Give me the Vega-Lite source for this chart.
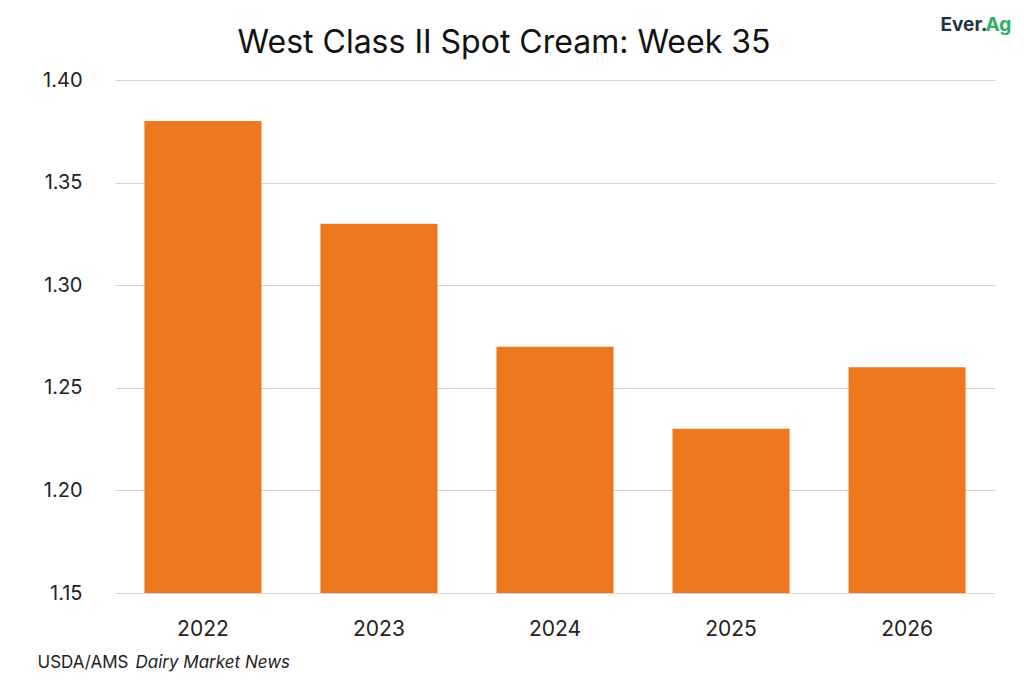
{
  "$schema": "https://vega.github.io/schema/vega-lite/v6.json",
  "autosize": {"type": "none"},
  "width": 880,
  "height": 513,
  "padding": {"left": 115, "top": 80, "right": 29, "bottom": 90},
  "background": "white",
  "title": {
    "text": "West Class II Spot Cream: Week 35",
    "anchor": "middle",
    "frame": "group",
    "dx": -51,
    "offset": -45,
    "fontSize": 32,
    "fontWeight": "normal",
    "font": "Inter",
    "color": "#111111"
  },
  "data": {
    "values": [
      {"year": "2022", "price": 1.38},
      {"year": "2023", "price": 1.33},
      {"year": "2024", "price": 1.27},
      {"year": "2025", "price": 1.23},
      {"year": "2026", "price": 1.26}
    ]
  },
  "layer": [
    {
      "mark": {"type": "bar", "color": "#EC771F"},
      "encoding": {
        "x": {
          "field": "year",
          "type": "nominal",
          "scale": {"paddingInner": 0.335, "paddingOuter": 0.167},
          "axis": {
            "labelAngle": 0,
            "labelFontSize": 21,
            "labelPadding": 25,
            "labelColor": "#222222",
            "domain": false,
            "ticks": false,
            "title": "USDA/AMS",
            "titleFont": "Inter",
            "titleFontSize": 17,
            "titleFontWeight": "normal",
            "titleColor": "#222222",
            "titleAngle": 0,
            "titleAlign": "left",
            "titleBaseline": "alphabetic",
            "titleX": -78,
            "titleY": 74
          }
        },
        "y": {
          "field": "price",
          "type": "quantitative",
          "scale": {"domain": [1.15, 1.4], "zero": false, "nice": false},
          "axis": {
            "values": [1.15, 1.2, 1.25, 1.3, 1.35, 1.4],
            "format": ".2f",
            "labelFontSize": 20,
            "labelPadding": 33,
            "labelColor": "#222222",
            "domain": false,
            "ticks": false,
            "grid": true,
            "gridColor": "#d4d4d4",
            "gridWidth": 1,
            "title": "Dairy Market News",
            "titleFont": "Inter",
            "titleFontSize": 17,
            "titleFontWeight": "normal",
            "titleFontStyle": "italic",
            "titleColor": "#222222",
            "titleAngle": 0,
            "titleAlign": "left",
            "titleBaseline": "alphabetic",
            "titleX": 20,
            "titleY": 587
          }
        },
        "y2": {"datum": 1.15}
      }
    },
    {
      "mark": {"type": "bar", "opacity": 0},
      "encoding": {
        "x": {
          "field": "year",
          "type": "nominal",
          "scale": {"paddingInner": 0.335, "paddingOuter": 0.167},
          "axis": {
            "orient": "top",
            "labels": false,
            "ticks": false,
            "domain": false,
            "grid": false,
            "title": "Ag",
            "titleFont": "Inter",
            "titleFontSize": 19,
            "titleFontWeight": "bold",
            "titleColor": "#2BAE66",
            "titleAngle": 0,
            "titleAlign": "left",
            "titleBaseline": "alphabetic",
            "titleX": 870,
            "titleY": -50
          }
        },
        "y": {
          "field": "price",
          "type": "quantitative",
          "scale": {"domain": [1.15, 1.4], "zero": false, "nice": false},
          "axis": {
            "orient": "right",
            "labels": false,
            "ticks": false,
            "domain": false,
            "grid": false,
            "title": "Ever.",
            "titleFont": "Inter",
            "titleFontSize": 19,
            "titleFontWeight": "bold",
            "titleColor": "#1E3444",
            "titleAngle": 0,
            "titleAlign": "left",
            "titleBaseline": "alphabetic",
            "titleX": -55,
            "titleY": -50
          }
        },
        "y2": {"datum": 1.15}
      }
    }
  ],
  "resolve": {"axis": {"x": "independent", "y": "independent"}},
  "config": {
    "font": "Inter",
    "view": {"stroke": null}
  }
}
